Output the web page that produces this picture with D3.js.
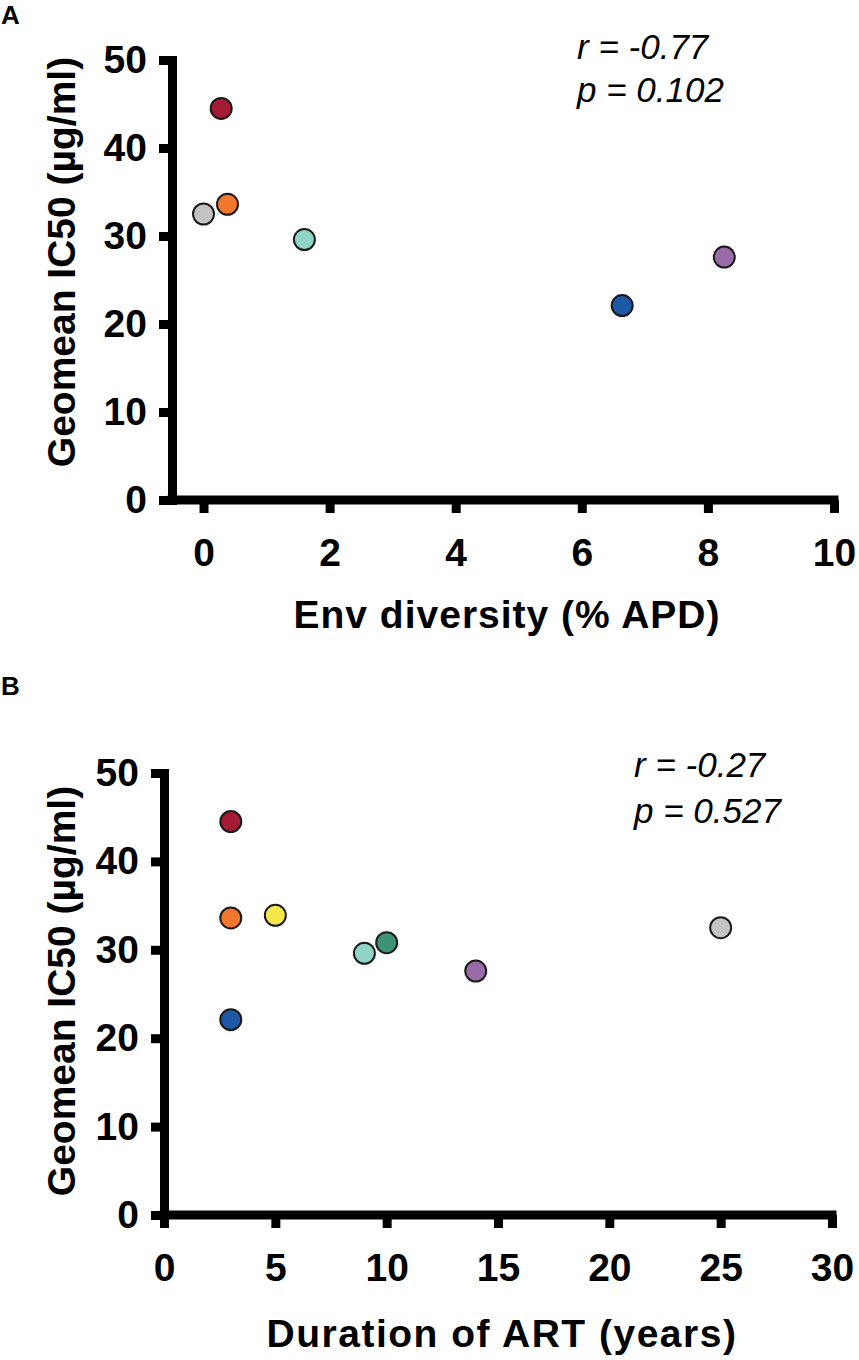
<!DOCTYPE html>
<html>
<head>
<meta charset="utf-8">
<script src="https://cdn.jsdelivr.net/npm/d3@7"></script>
<style>
  html, body { margin: 0; padding: 0; background: #fff; }
  svg { display: block; font-family: "Liberation Sans", Arial, Helvetica, sans-serif; }
</style>
</head>
<body>
<svg id="chart" width="859" height="1360"></svg>
<script>
// one entry per patient, same order in every array
var patients = ['P1', 'P2', 'P3', 'P4', 'P5', 'P6', 'P7', 'P8'];
var pointColors = ['#a51b33', '#f0772d', '#c3c3c3', '#8fd4c7', '#9a6ba9', '#1d58a4', '#f6e84a', '#3e9377'];
var geomeanIC50 = [44.5, 33.6, 32.5, 29.6, 27.6, 22.1, 33.9, 30.8];
var envDiversity = [0.28, 0.38, 0.0, 1.6, 8.26, 6.64, null, null];
var artDuration = [3, 3, 25, 9, 14, 3, 5, 10];

var yTicks = [0, 10, 20, 30, 40, 50];
var xTicksA = [0, 2, 4, 6, 8, 10];
var xTicksB = [0, 5, 10, 15, 20, 25, 30];

var statsA = ['r = -0.77', 'p = 0.102'];
var statsB = ['r = -0.27', 'p = 0.527'];

var svg = d3.select('#chart');

function styleAxis(g) {
  g.select('.domain')
    .attr('stroke', '#000')
    .attr('stroke-width', 9)
    .attr('stroke-linecap', 'square');
  g.selectAll('.tick line')
    .attr('stroke', '#000')
    .attr('stroke-width', 9);
  g.selectAll('.tick text')
    .attr('fill', '#000')
    .attr('font-size', 39)
    .attr('font-weight', 'bold');
}

function drawPanel(opts) {
  var root = svg.append('g');

  var x = d3.scaleLinear().domain(opts.xDomain).range(opts.xRange);
  var y = d3.scaleLinear().domain([0, 50]).range(opts.yRange);

  root.append('g')
    .attr('transform', 'translate(0,' + opts.yRange[0] + ')')
    .call(d3.axisBottom(x).tickValues(opts.xTicks).tickSize(13).tickSizeOuter(0).tickPadding(25))
    .call(styleAxis)
    .call(function(g) { g.selectAll('.domain').attr('d', 'M' + opts.xRange[0] + ',0H' + opts.xRange[1]); });

  root.append('g')
    .attr('transform', 'translate(' + opts.xRange[0] + ',0)')
    .call(d3.axisLeft(y).tickValues(yTicks).tickSize(13).tickSizeOuter(0).tickPadding(12))
    .call(styleAxis);

  var data = patients.map(function(p, i) {
    return { id: p, x: opts.xValues[i], y: geomeanIC50[i], color: pointColors[i] };
  }).filter(function(d) { return d.x != null; });

  root.selectAll('.point').data(data)
    .enter().append('circle')
    .attr('class', 'point')
    .attr('cx', function(d) { return x(d.x); })
    .attr('cy', function(d) { return y(d.y); })
    .attr('r', 10.5)
    .attr('fill', function(d) { return d.color; })
    .attr('stroke', '#1a1a1a')
    .attr('stroke-width', 2);

  // axis titles
  root.append('text')
    .attr('x', (opts.xRange[0] + opts.xRange[1]) / 2 + 4)
    .attr('y', opts.yRange[0] + opts.xTitleOffset)
    .attr('text-anchor', 'middle')
    .attr('font-size', 39)
    .attr('font-weight', 'bold')
    .attr('letter-spacing', opts.xTitleSpacing)
    .text(opts.xTitle);

  root.append('text')
    .attr('transform', 'translate(75,' + opts.yTitleCenter + ') rotate(-90)')
    .attr('text-anchor', 'middle')
    .attr('font-size', 39)
    .attr('font-weight', 'bold')
    .text('Geomean IC50 (µg/ml)');

  root.selectAll('.stat').data(opts.stats)
    .enter().append('text')
    .attr('class', 'stat')
    .attr('x', opts.statPos[0])
    .attr('y', function(d, i) { return opts.statPos[1] + i * opts.statGap; })
    .attr('font-size', 35)
    .attr('font-style', 'italic')
    .text(function(d) { return d; });

  root.append('text')
    .attr('x', 1)
    .attr('y', opts.letterY)
    .attr('font-size', 26)
    .attr('font-weight', 'bold')
    .text(opts.letter);
}

drawPanel({
  letter: 'A', letterY: 24,
  xValues: envDiversity, xDomain: [-0.5, 10], xRange: [172, 834], yRange: [500, 60],
  xTicks: xTicksA, xTitle: 'Env diversity (% APD)', xTitleOffset: 128, xTitleSpacing: 1,
  yTitleCenter: 262, stats: statsA, statPos: [577, 59], statGap: 43
});

drawPanel({
  letter: 'B', letterY: 695,
  xValues: artDuration, xDomain: [0, 30], xRange: [164, 832], yRange: [1215, 773],
  xTicks: xTicksB, xTitle: 'Duration of ART (years)', xTitleOffset: 132, xTitleSpacing: 1.5,
  yTitleCenter: 991, stats: statsB, statPos: [634, 777], statGap: 46
});
</script>
</body>
</html>
